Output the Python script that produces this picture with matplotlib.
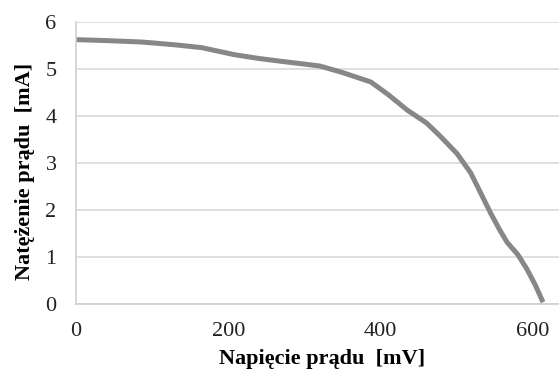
import matplotlib
matplotlib.use('Agg')
import matplotlib.pyplot as plt

# I-V curve
voltage_mv = [0, 40, 86, 130, 165, 208, 240, 269, 300, 320, 350, 387, 410, 435, 460,
              478, 500, 518, 530, 544, 556, 566, 580, 592, 603, 613]
current_ma = [5.62, 5.60, 5.57, 5.51, 5.45, 5.30, 5.22, 5.16, 5.10, 5.06, 4.92, 4.72,
              4.45, 4.12, 3.85, 3.57, 3.20, 2.79, 2.40, 1.94, 1.58, 1.31, 1.05, 0.74,
              0.40, 0.04]

x_ticks = [0, 200, 400, 600]
y_ticks = [0, 1, 2, 3, 4, 5, 6]

plt.rcParams['font.family'] = ['Liberation Serif', 'DejaVu Serif']

fig = plt.figure(figsize=(5.59, 3.69), dpi=100)
# axes box: x=0 at px 76, right edge at figure edge, y from 304 (0) to 21.7 (6)
ax = fig.add_axes([0.136, 0.176, 0.864, 0.765])

ax.plot(voltage_mv, current_ma, color='#878787', lw=3.6, solid_capstyle='butt')

ax.set_xlim(0, 634)
ax.set_ylim(0, 6)
ax.set_xticks(x_ticks)
ax.set_yticks(y_ticks)
ax.tick_params(length=0, labelsize=16, colors='#222222')
ax.tick_params(axis='x', pad=13)
ax.tick_params(axis='y', pad=14)

ax.grid(axis='y', color='#d9d9d9', lw=1.2)
ax.set_axisbelow(True)
for s in ['top', 'right']:
    ax.spines[s].set_visible(False)
for s in ['left', 'bottom']:
    ax.spines[s].set_color('#d0d0d0')
    ax.spines[s].set_linewidth(1.2)

ax.set_xlabel('Napięcie prądu  [mV]', fontsize=16, fontweight='bold', va='center')
ax.set_ylabel('Natężenie prądu  [mA]', fontsize=16, fontweight='bold', va='center')
ax.xaxis.set_label_coords(0.51, -0.195)
ax.yaxis.set_label_coords(-0.105, 0.47)

fig.savefig('out.png', dpi=100)
